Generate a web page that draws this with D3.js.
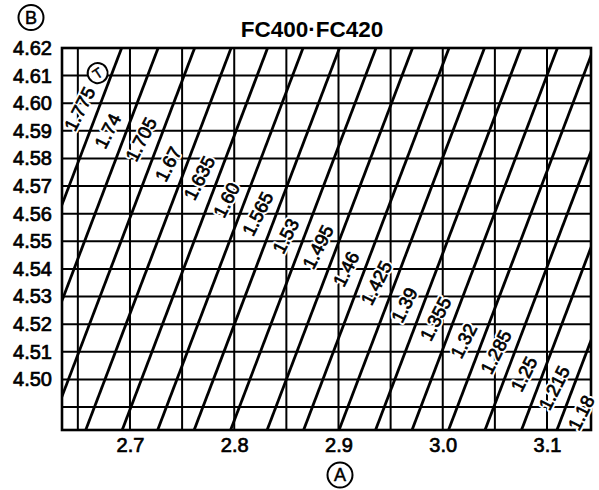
<!DOCTYPE html>
<html>
<head>
<meta charset="utf-8">
<script src="https://cdn.jsdelivr.net/npm/d3@7"></script>
<style>
  body { margin: 0; background: #fff; }
  text { font-family: "Liberation Sans", Arial, Helvetica, sans-serif; }
</style>
</head>
<body>
<script>
// T lines, left to right
const lineT = ["1.775", "1.74", "1.705", "1.67", "1.635", "1.60", "1.565", "1.53", "1.495",
               "1.46", "1.425", "1.39", "1.355", "1.32", "1.285", "1.25", "1.215", "1.18"];
// A where each T line meets B = 4.62 and B = 4.50
const aAtTop = [2.692, 2.727, 2.762, 2.797, 2.832, 2.866, 2.901, 2.936, 2.971,
                3.006, 3.040, 3.075, 3.110, 3.145, 3.180, 3.215, 3.249, 3.284];
const aAt450 = [2.571, 2.606, 2.641, 2.676, 2.711, 2.745, 2.780, 2.815, 2.850,
                2.885, 2.919, 2.954, 2.989, 3.024, 3.059, 3.094, 3.128, 3.163];
// B level where each T label sits
const labelB = [4.598, 4.590, 4.587, 4.578, 4.573, 4.565, 4.560, 4.552, 4.548,
                4.540, 4.535, 4.527, 4.522, 4.514, 4.510, 4.502, 4.497, 4.488];

const gridA = [2.65, 2.70, 2.75, 2.80, 2.85, 2.90, 2.95, 3.00, 3.05, 3.10];
const gridB = [4.49, 4.50, 4.51, 4.52, 4.53, 4.54, 4.55, 4.56, 4.57, 4.58, 4.59, 4.60, 4.61];
const tickA = [2.7, 2.8, 2.9, 3.0, 3.1];
const tickB = [4.50, 4.51, 4.52, 4.53, 4.54, 4.55, 4.56, 4.57, 4.58, 4.59, 4.60, 4.61, 4.62];

const title = "FC400\u00B7FC420";

const width = 599, height = 490;
const pLeft = 62, pRight = 591, pTop = 48, pBottom = 430;

const svg = d3.select("body").append("svg")
  .attr("width", width)
  .attr("height", height);

const x = d3.scaleLinear().domain([2.6348, 3.1422]).range([pLeft, pRight]);
const y = d3.scaleLinear().domain([4.4817, 4.62]).range([pBottom, pTop]);

// clip for the slanted lines
svg.append("clipPath").attr("id", "plot")
  .append("rect")
  .attr("x", pLeft).attr("y", pTop)
  .attr("width", pRight - pLeft).attr("height", pBottom - pTop);

// grid
const grid = svg.append("g").attr("stroke", "#000").attr("stroke-width", 2);
grid.selectAll(".gx").data(gridA).enter().append("line")
  .attr("x1", d => x(d)).attr("x2", d => x(d))
  .attr("y1", pTop).attr("y2", pBottom);
grid.selectAll(".gy").data(gridB).enter().append("line")
  .attr("x1", pLeft).attr("x2", pRight)
  .attr("y1", d => y(d)).attr("y2", d => y(d));

// A along line i at level B
function aOn(i, b) {
  const k = (aAtTop[i] - aAt450[i]) / (4.62 - 4.50);
  return aAtTop[i] + (b - 4.62) * k;
}

const [b0, b1] = y.domain();
svg.append("g")
  .attr("clip-path", "url(#plot)")
  .selectAll("line")
  .data(lineT)
  .enter().append("line")
    .attr("x1", (d, i) => x(aOn(i, b0)))
    .attr("y1", y(b0))
    .attr("x2", (d, i) => x(aOn(i, b1)))
    .attr("y2", y(b1))
    .attr("stroke", "#000")
    .attr("stroke-width", 2.8);

// frame
svg.append("rect")
  .attr("x", pLeft).attr("y", pTop)
  .attr("width", pRight - pLeft).attr("height", pBottom - pTop)
  .attr("fill", "none").attr("stroke", "#000").attr("stroke-width", 2.6);

// T labels sitting just left of their lines
const lab = svg.append("g").selectAll("g")
  .data(lineT)
  .enter().append("g")
    .attr("transform", (d, i) =>
      "translate(" + (x(aOn(i, labelB[i])) - 19) + "," + y(labelB[i]) + ") rotate(-63)");

lab.append("text")
  .attr("text-anchor", "middle").attr("dy", "0.36em")
  .attr("font-size", 18.5)
  .attr("fill", "#fff").attr("stroke", "#fff").attr("stroke-width", 4.5)
  .attr("stroke-linejoin", "round")
  .text(d => d);
lab.append("text")
  .attr("text-anchor", "middle").attr("dy", "0.36em")
  .attr("font-size", 18.5)
  .attr("fill", "#000").attr("stroke", "#000").attr("stroke-width", 0.7)
  .text(d => d);

// circled T next to the first label
const tMark = lab.filter((d, i) => i === 0).append("g")
  .attr("transform", "translate(40,0) rotate(30)");
tMark.append("circle").attr("r", 10)
  .attr("fill", "#fff").attr("stroke", "#000").attr("stroke-width", 2);
tMark.append("text")
  .attr("text-anchor", "middle").attr("dy", "0.36em")
  .attr("font-size", 14).attr("fill", "#000")
  .attr("stroke", "#000").attr("stroke-width", 0.5)
  .text("T");

// axes
const yAxis = d3.axisLeft(y).tickValues(tickB)
  .tickFormat(d3.format(".2f")).tickSize(0).tickPadding(10);
const xAxis = d3.axisBottom(x).tickValues(tickA)
  .tickFormat(d3.format(".1f")).tickSize(0).tickPadding(8);

const gy = svg.append("g").attr("transform", "translate(" + pLeft + ",0)").call(yAxis);
const gx = svg.append("g").attr("transform", "translate(0," + pBottom + ")").call(xAxis);
[gy, gx].forEach(g => {
  g.select(".domain").remove();
  g.selectAll("text")
    .attr("font-family", "Liberation Sans, Arial, sans-serif")
    .attr("font-size", 20)
    .attr("fill", "#000").attr("stroke", "#000").attr("stroke-width", 0.7);
});

// title
svg.append("text")
  .attr("x", 312).attr("y", 37)
  .attr("text-anchor", "middle")
  .attr("font-size", 22.5).attr("font-weight", "bold")
  .text(title);

// circled axis letters
function circled(cx, cy, r, letter) {
  const g = svg.append("g").attr("transform", "translate(" + cx + "," + cy + ")");
  g.append("circle").attr("r", r)
    .attr("fill", "none").attr("stroke", "#000").attr("stroke-width", 2);
  g.append("text")
    .attr("text-anchor", "middle").attr("dy", "0.36em")
    .attr("font-size", 18).attr("fill", "#000")
    .attr("stroke", "#000").attr("stroke-width", 0.5)
    .text(letter);
}
circled(31, 17.5, 12.5, "B");
circled(340, 475, 12.5, "A");
</script>
</body>
</html>
